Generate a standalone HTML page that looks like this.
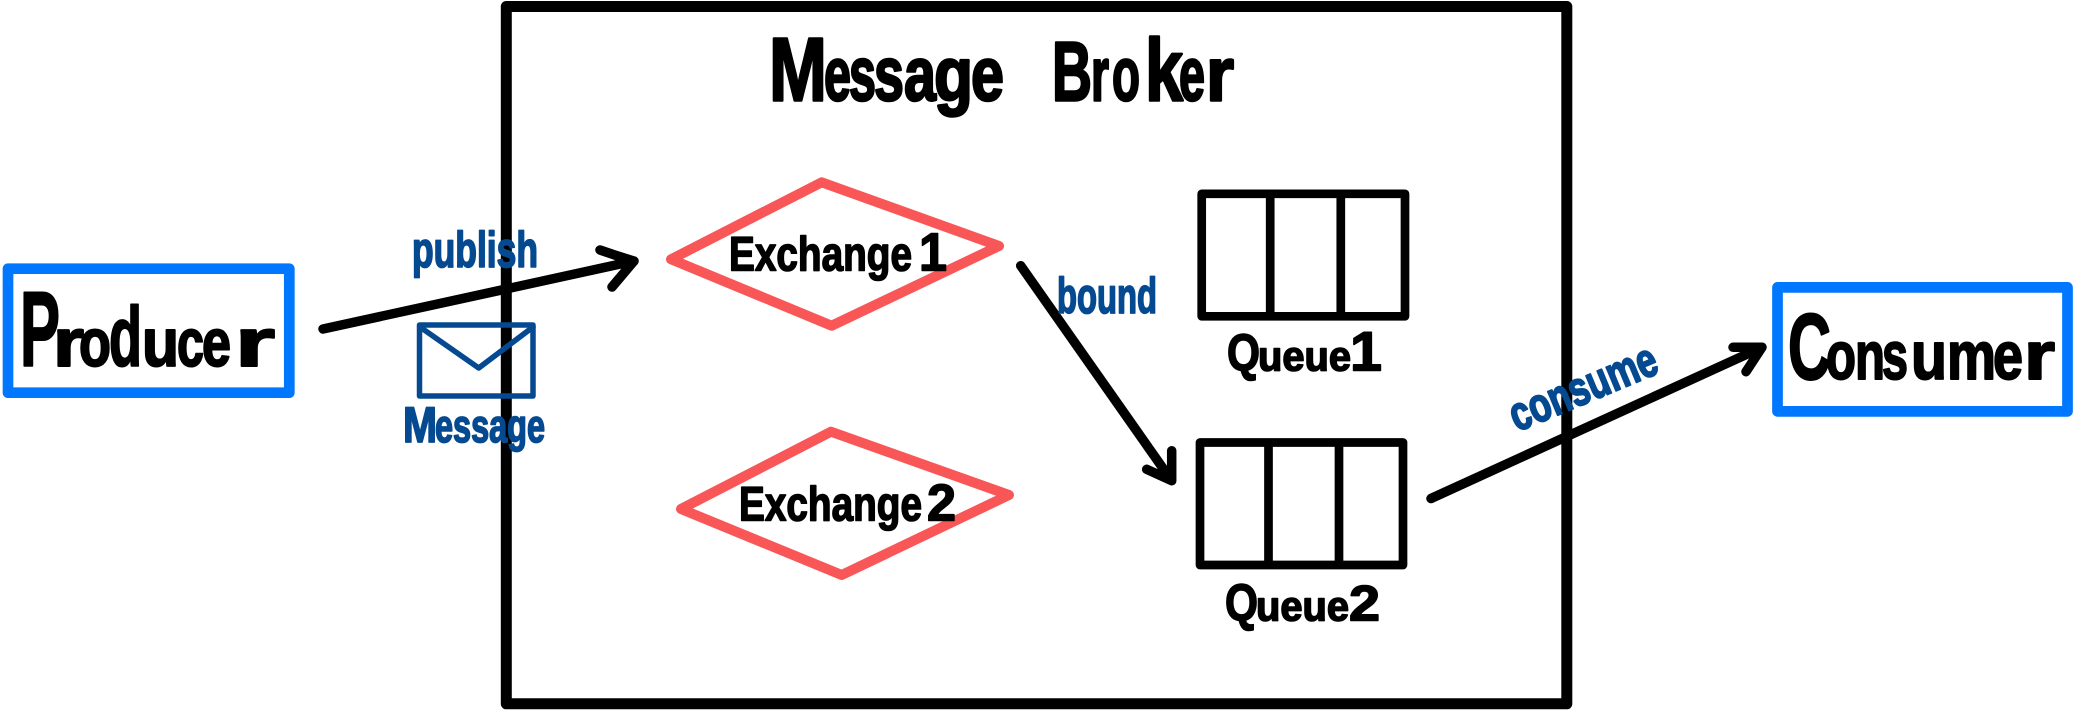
<!DOCTYPE html>
<html><head><meta charset="utf-8"><style>
html,body{margin:0;padding:0;background:#fff;width:2073px;height:712px;overflow:hidden}
svg{display:block}
text{font-family:"Liberation Sans",sans-serif;font-weight:bold}
.k{fill:#000;stroke:#000;stroke-linejoin:round;stroke-linecap:round}
.b{fill:#054a91;stroke:#054a91;stroke-linejoin:round;stroke-linecap:round}
.l{fill:none;stroke:#000;stroke-width:9.5;stroke-linecap:round;stroke-linejoin:round}
.d{fill:none;stroke:#f95757;stroke-width:10;stroke-linejoin:round}
</style></head><body>
<svg width="2073" height="712" viewBox="0 0 2073 712" xmlns="http://www.w3.org/2000/svg">
<rect x="506.3" y="6.5" width="1060.5" height="697.3" fill="none" stroke="#000" stroke-width="11" stroke-linejoin="round"/>
<rect x="8" y="268.7" width="281.3" height="124" fill="none" stroke="#0077ff" stroke-width="10.7" stroke-linejoin="round"/>
<rect x="1777.5" y="287.4" width="290" height="124" fill="none" stroke="#0077ff" stroke-width="10.7" stroke-linejoin="round"/>
<polygon class="d" points="671,259.3 821.7,182.3 999,246 831.7,325.7"/>
<polygon class="d" points="681,509 831,431.7 1009,495 841.7,575"/>
<g fill="none" stroke="#000" stroke-width="8.7" stroke-linejoin="round">
<rect x="1201.7" y="193.8" width="203.3" height="122.5"/>
<path d="M1270.2 193.8V316.3M1340.8 193.8V316.3"/>
<rect x="1200" y="442.5" width="203" height="122.5"/>
<path d="M1268.5 442.5V565M1339 442.5V565"/>
</g>
<path class="l" d="M323 329L634 261M600 250Q617 256 634 261L612 287"/>
<path class="l" d="M1020.7 265.7L1171.7 480.7V450.7M1171.7 480.7L1146.7 469.3"/>
<path class="l" d="M1431 498.5L1762 347.3H1733M1762 347.3L1746 371.7"/>
<g fill="none" stroke="#054a91" stroke-width="5.5" stroke-linejoin="round" stroke-linecap="round">
<rect x="419.5" y="325" width="113.5" height="71"/>
<path d="M420 327L478.7 368L533 327"/>
</g>
<text class="k" stroke-width="2" y="366" font-size="68"><tspan x="20" font-size="107" textLength="40" lengthAdjust="spacingAndGlyphs">P</tspan><tspan x="53" textLength="31" lengthAdjust="spacingAndGlyphs">r</tspan><tspan x="79" textLength="32" lengthAdjust="spacingAndGlyphs">o</tspan><tspan x="109" font-size="84" textLength="33" lengthAdjust="spacingAndGlyphs">d</tspan><tspan x="142" textLength="37" lengthAdjust="spacingAndGlyphs">u</tspan><tspan x="177" textLength="27" lengthAdjust="spacingAndGlyphs">c</tspan><tspan x="202" textLength="29" lengthAdjust="spacingAndGlyphs">e</tspan><tspan x="235" textLength="40" lengthAdjust="spacingAndGlyphs">r</tspan></text>
<text class="k" stroke-width="2" y="379" font-size="68"><tspan x="1788" font-size="94" textLength="43" lengthAdjust="spacingAndGlyphs">C</tspan><tspan x="1826" textLength="30" lengthAdjust="spacingAndGlyphs">o</tspan><tspan x="1855" textLength="30" lengthAdjust="spacingAndGlyphs">n</tspan><tspan x="1882" textLength="26" lengthAdjust="spacingAndGlyphs">s</tspan><tspan x="1911" textLength="36" lengthAdjust="spacingAndGlyphs">u</tspan><tspan x="1947" textLength="49" lengthAdjust="spacingAndGlyphs">m</tspan><tspan x="1993" textLength="30" lengthAdjust="spacingAndGlyphs">e</tspan><tspan x="2024" textLength="31" lengthAdjust="spacingAndGlyphs">r</tspan></text>
<text class="k" stroke-width="2.5" y="100.5" font-size="76"><tspan x="769" font-size="90" textLength="58" lengthAdjust="spacingAndGlyphs">M</tspan><tspan x="824" textLength="27" lengthAdjust="spacingAndGlyphs">e</tspan><tspan x="849" textLength="27" lengthAdjust="spacingAndGlyphs">s</tspan><tspan x="874" textLength="30" lengthAdjust="spacingAndGlyphs">s</tspan><tspan x="904" textLength="32" lengthAdjust="spacingAndGlyphs">a</tspan><tspan x="934" textLength="39" lengthAdjust="spacingAndGlyphs">g</tspan><tspan x="971" textLength="33" lengthAdjust="spacingAndGlyphs">e</tspan><tspan x="1020"> </tspan><tspan x="1052" font-size="84" textLength="40" lengthAdjust="spacingAndGlyphs">B</tspan><tspan x="1091" textLength="18" lengthAdjust="spacingAndGlyphs">r</tspan><tspan x="1112" textLength="28" lengthAdjust="spacingAndGlyphs">o</tspan><tspan x="1145" font-size="88" textLength="38" lengthAdjust="spacingAndGlyphs">k</tspan><tspan x="1179" textLength="26" lengthAdjust="spacingAndGlyphs">e</tspan><tspan x="1206" textLength="28" lengthAdjust="spacingAndGlyphs">r</tspan></text>
<text class="k" stroke-width="1.6" y="270.5" font-size="48"><tspan x="729" textLength="183" lengthAdjust="spacingAndGlyphs">Exchange</tspan><tspan x="914"> </tspan><tspan x="919" font-size="54" textLength="28" lengthAdjust="spacingAndGlyphs">1</tspan></text>
<text class="k" stroke-width="1.6" y="520.5" font-size="48"><tspan x="739" textLength="183" lengthAdjust="spacingAndGlyphs">Exchange</tspan><tspan x="924"> </tspan><tspan x="927" font-size="52" textLength="29" lengthAdjust="spacingAndGlyphs">2</tspan></text>
<text class="k" stroke-width="1.6" y="370.5" font-size="42"><tspan x="1227" font-size="52" textLength="33" lengthAdjust="spacingAndGlyphs">Q</tspan><tspan x="1258" textLength="93" lengthAdjust="spacingAndGlyphs">ueue</tspan><tspan x="1350" font-size="56" textLength="32" lengthAdjust="spacingAndGlyphs">1</tspan></text>
<text class="k" stroke-width="1.6" y="620.5" font-size="42"><tspan x="1225" font-size="52" textLength="33" lengthAdjust="spacingAndGlyphs">Q</tspan><tspan x="1256" textLength="93" lengthAdjust="spacingAndGlyphs">ueue</tspan><tspan x="1349" font-size="50" textLength="31" lengthAdjust="spacingAndGlyphs">2</tspan></text>
<text class="b" stroke-width="1.8" x="1057" y="313" font-size="50" textLength="100" lengthAdjust="spacingAndGlyphs">bound</text>
<text class="b" stroke-width="1.8" x="412" y="267" font-size="50" textLength="126" lengthAdjust="spacingAndGlyphs">publish</text>
<text class="b" stroke-width="1.8" y="442" font-size="46"><tspan x="403" font-size="50" textLength="34" lengthAdjust="spacingAndGlyphs">M</tspan><tspan x="435" textLength="110" lengthAdjust="spacingAndGlyphs">essage</tspan></text>
<text class="b" stroke-width="2" transform="translate(1517 432) rotate(-22.6)" font-size="48" textLength="156" lengthAdjust="spacingAndGlyphs">consume</text>
</svg>
</body></html>
